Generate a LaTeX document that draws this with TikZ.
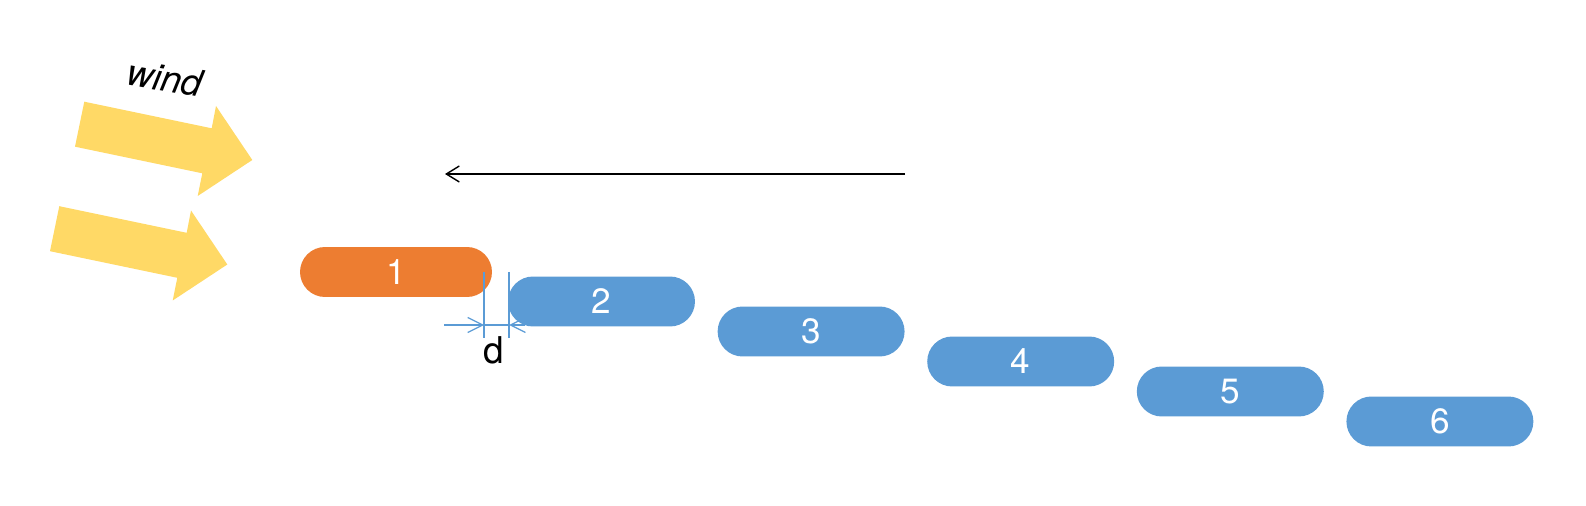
\documentclass[tikz,border=0pt]{standalone}
\usepackage{fontspec}
\setmainfont{TeX Gyre Heros}
\usetikzlibrary{arrows.meta}

\definecolor{pillorange}{HTML}{ED7D31}
\definecolor{pillblue}{HTML}{5B9BD5}
\definecolor{windyellow}{HTML}{FFD966}

\tikzset{
    pill/.style={rectangle, rounded corners=0.5cm, minimum height=1cm, minimum width=3.74cm,
        inner sep=0pt, text=white, font=\fontsize{20}{24}\selectfont},
    windarrow/.style={fill=windyellow},
    dimline/.style={draw=pillblue, line width=0.7pt},
    dimtip/.style={-{Straight Barb[length=0.3cm, width=0.3cm]}}
}

\begin{document}
\begin{tikzpicture}[x=0.02cm, y=-0.02cm]
        \useasboundingbox (0,0) rectangle (1586,506);
        % wind
        \foreach \dx/\dy in {0/0, -25/104.5} {
            \fill[windarrow, shift={(\dx,\dy)}] (84.3,101.7) -- (211.7,128.3) -- (216,106) -- (252.3,160)
                -- (197.7,196) -- (202.3,173.3) -- (75,146.7) -- cycle;
        }
        \node[rotate=-10, font=\itshape\fontsize{21}{25}\selectfont] (wind) at (165,78) {wind};
        % cars
        \node[pill, fill=pillorange, minimum width=3.84cm] (p1) at (396,272) {1};
        \foreach \i in {2,...,6} {
            \node[pill, fill=pillblue] (p\i) at ({601.5+(\i-2)*209.6}, {301.5+(\i-2)*30}) {\i};
        }
        % direction
        \coordinate (flowfrom) at (905,174);
        \coordinate (flowto) at (445,174);
        \draw[-{Straight Barb[length=0.26cm, width=0.32cm]}, line width=0.8pt] (flowfrom) -- (flowto);
        % gap
        \coordinate (extlt) at (484,272);
        \coordinate (extlb) at (484,338);
        \coordinate (extrt) at (509,272);
        \coordinate (extrb) at (509,338);
        \coordinate (gapl) at (484,325);
        \coordinate (gapr) at (509,325);
        \coordinate (gapin) at (444,325);
        \coordinate (gapout) at (525,325);
        \draw[dimline] (extlt) -- (extlb);
        \draw[dimline] (extrt) -- (extrb);
        \draw[dimline] (gapl) -- (gapr);
        \draw[dimline, dimtip] (gapin) -- (gapl);
        \draw[dimline, dimtip] (gapout) -- (gapr);
        \node[font=\fontsize{21}{25}\selectfont] (gaplabel) at (494,350) {d};
    \end{tikzpicture}
\end{document}
